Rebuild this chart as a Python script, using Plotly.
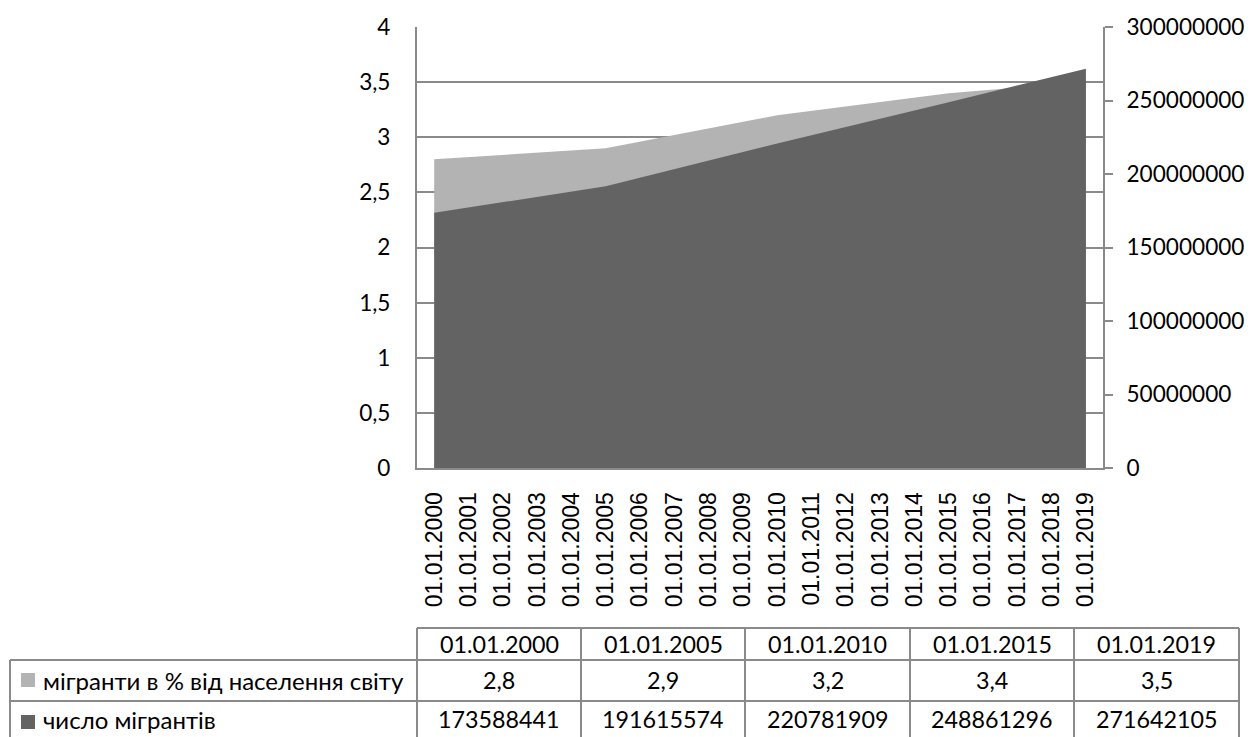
import plotly.graph_objects as go

# ---- data ----
dates = ["2000-01-01", "2005-01-01", "2010-01-01", "2015-01-01", "2019-01-01"]
date_labels = ["01.01.2000", "01.01.2005", "01.01.2010", "01.01.2015", "01.01.2019"]
series_pct_name = "мігранти в % від населення світу"
series_num_name = "число мігрантів"
pct_values = [2.8, 2.9, 3.2, 3.4, 3.5]
num_values = [173588441, 191615574, 220781909, 248861296, 271642105]
pct_labels = ["2,8", "2,9", "3,2", "3,4", "3,5"]

W, H = 1253, 737
LIGHT = "#b3b3b3"
DARK = "#636363"
GRID = "#8a8a8a"
FONT = "Lato"


def px(x):
    return x / W


def py(y):
    return (H - y) / H


fig = go.Figure()
fig.add_trace(go.Scatter(x=dates, y=pct_values, name=series_pct_name, mode="none",
                         fill="tozeroy", fillcolor=LIGHT, yaxis="y", hoverinfo="skip"))
fig.add_trace(go.Scatter(x=dates, y=num_values, name=series_num_name, mode="none",
                         fill="tozeroy", fillcolor=DARK, yaxis="y2", hoverinfo="skip"))

shapes = []
annotations = []

# table geometry (pixels)
col_x = [417, 581, 745, 910, 1074, 1239]
left_x = 10
row_y = [628, 660, 701, 741]
line = dict(color=GRID, width=2)

# horizontal lines
shapes.append(dict(type="line", xref="paper", yref="paper", x0=px(col_x[0]), x1=px(col_x[-1]),
                   y0=py(row_y[0]), y1=py(row_y[0]), line=line))
for yy in row_y[1:3]:
    shapes.append(dict(type="line", xref="paper", yref="paper", x0=px(left_x), x1=px(col_x[-1]),
                       y0=py(yy), y1=py(yy), line=line))
# vertical lines
shapes.append(dict(type="line", xref="paper", yref="paper", x0=px(left_x), x1=px(left_x),
                   y0=py(row_y[1]), y1=py(row_y[3]), line=line))
for xx in col_x:
    shapes.append(dict(type="line", xref="paper", yref="paper", x0=px(xx), x1=px(xx),
                       y0=py(row_y[0]), y1=py(row_y[3]), line=line))

# legend squares
for (y0, y1, c) in [(673, 687, LIGHT), (715, 729, DARK)]:
    shapes.append(dict(type="rect", xref="paper", yref="paper", x0=px(21), x1=px(35),
                       y0=py(y1), y1=py(y0), fillcolor=c, line=dict(width=0)))

tfont = dict(family=FONT, size=24, color="black")
nfont = dict(family=FONT, size=23.3, color="black")
annotations.append(dict(xref="paper", yref="paper", x=px(41), y=py(680), text=series_pct_name,
                        showarrow=False, xanchor="left", yanchor="middle", font=tfont))
annotations.append(dict(xref="paper", yref="paper", x=px(41), y=py(719), text=series_num_name,
                        showarrow=False, xanchor="left", yanchor="middle", font=tfont))
for i in range(len(dates)):
    cx = (col_x[i] + col_x[i + 1]) / 2
    annotations.append(dict(xref="paper", yref="paper", x=px(cx), y=py(644), text=date_labels[i],
                            showarrow=False, xanchor="center", yanchor="middle", font=nfont))
    annotations.append(dict(xref="paper", yref="paper", x=px(cx), y=py(680), text=pct_labels[i],
                            showarrow=False, xanchor="center", yanchor="middle", font=nfont))
    annotations.append(dict(xref="paper", yref="paper", x=px(cx), y=py(719), text=str(num_values[i]),
                            showarrow=False, xanchor="center", yanchor="middle", font=nfont))

axfont = dict(family=FONT, size=22.6, color="black")

fig.update_layout(
    width=W, height=H, autosize=False,
    margin=dict(l=0, r=0, t=0, b=0, pad=0, autoexpand=False),
    paper_bgcolor="white", plot_bgcolor="white",
    showlegend=False,
    separators=", ",
    font=dict(family=FONT, size=24, color="black"),
    xaxis=dict(
        type="date", automargin=False,
        domain=[px(417), px(1103)],
        range=["1999-07-02", "2019-07-02"],
        tick0="2000-01-01", dtick="M12",
        tickformat="%d.%m.%Y",
        tickangle=-90,
        tickfont=dict(family="Liberation Sans", size=23, color="black"),
        ticks="", ticklabelstandoff=13,
        showgrid=False, zeroline=False,
        showline=True, linecolor=GRID, linewidth=2,
    ),
    yaxis=dict(
        automargin=False,
        domain=[py(468), py(27)],
        range=[0, 4], dtick=0.5, tickformat=".1~f",
        showgrid=True, gridcolor=GRID, gridwidth=2,
        zeroline=False,
        showline=True, linecolor=GRID, linewidth=2,
        ticks="", ticklabelstandoff=20,
        tickfont=axfont,
    ),
    yaxis2=dict(
        automargin=False,
        overlaying="y", side="right", anchor="x",
        range=[0, 300000000], dtick=50000000, tickformat="d",
        showgrid=False, zeroline=False,
        showline=True, linecolor=GRID, linewidth=2,
        ticks="outside", ticklen=8, tickcolor=GRID, tickwidth=2,
        ticklabelstandoff=9,
        tickfont=axfont,
    ),
    shapes=shapes,
    annotations=annotations,
)

fig.write_html("out.html", config={"displayModeBar": False},
               post_script="document.body.style.margin='0';")
